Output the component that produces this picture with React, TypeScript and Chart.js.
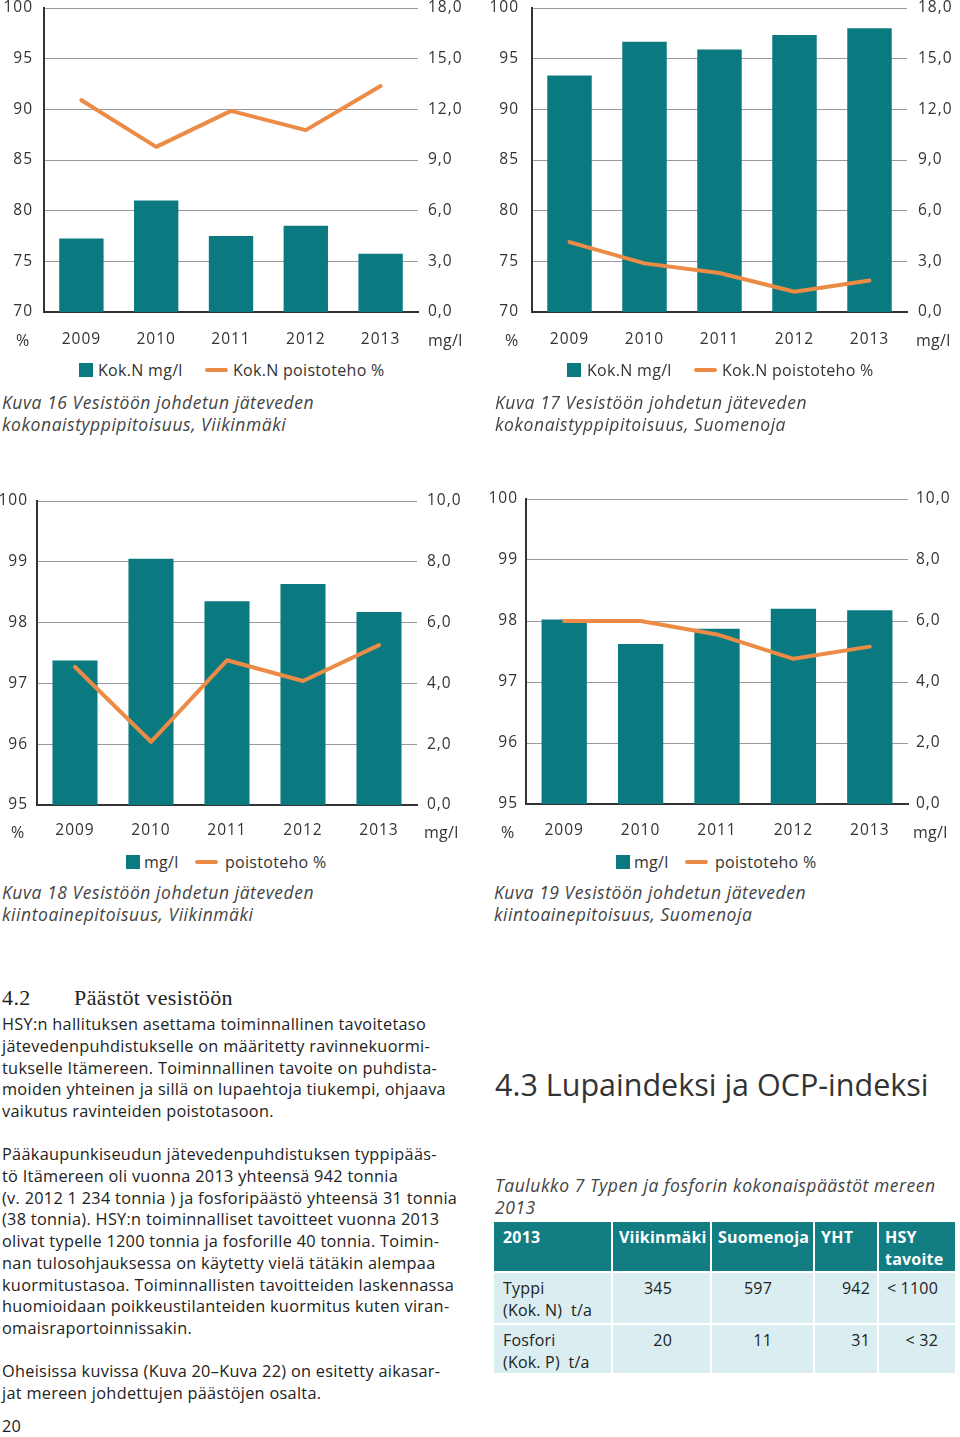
import React, { useEffect, useRef } from "react";
import { Chart, registerables } from "chart.js";

Chart.register(...registerables);

// ---------- data ----------
const years = ["2009", "2010", "2011", "2012", "2013"];

// Kuva 16 – Viikinmäki, kokonaistyppi
const viikN_mgl = [4.35, 6.6, 4.5, 5.1, 3.45];
const viikN_pct = [90.9, 86.3, 89.85, 87.95, 92.3];
// Kuva 17 – Suomenoja, kokonaistyppi
const suomN_mgl = [14.0, 16.0, 15.55, 16.4, 16.8];
const suomN_pct = [76.9, 74.8, 73.85, 72.0, 73.1];
// Kuva 18 – Viikinmäki, kiintoaine
const viikSS_mgl = [4.75, 8.1, 6.7, 7.27, 6.35];
const viikSS_pct = [97.27, 96.04, 97.38, 97.04, 97.63];
// Kuva 19 – Suomenoja, kiintoaine
const suomSS_mgl = [6.05, 5.25, 5.75, 6.4, 6.35];
const suomSS_pct = [98.0, 98.0, 97.78, 97.38, 97.58];

// table
const tableHeader = ["2013", "Viikinmäki", "Suomenoja", "YHT", "HSY\ntavoite"];
const typpiRow = ["Typpi\n(Kok. N)  t/a", "345", "597", "942", "< 1100"];
const fosforiRow = ["Fosfori\n(Kok. P)  t/a", "20", "11", "31", "< 32"];

const TEAL = "#0b7a80";
const ORANGE = "#ec8b45";
const TEXT = "#333333";
const FONT = "'Open Sans', sans-serif";

const spacingPlugin = {
  id: "spacing",
  beforeUpdate(chart: any) {
    chart.ctx.letterSpacing = "1px";
  },
  beforeDraw(chart: any) {
    chart.ctx.letterSpacing = "1px";
  },
};

type ChartProps = {
  left: number;
  top: number;
  width: number;
  height: number;
  leftW: number;
  rightW: number;
  padTop: number;
  xPad: number;
  lPad: number;
  rPad: number;
  pctMin: number;
  pctMax: number;
  pctStep: number;
  mglMax: number;
  mglStep: number;
  bars: number[];
  line: number[];
  barLabel: string;
  lineLabel: string;
};

function ComboChart(p: ChartProps) {
  const ref = useRef<HTMLCanvasElement>(null);
  useEffect(() => {
    if (!ref.current) return;
    const tickFont = { family: FONT, size: 15.5, lineHeight: 1 };
    const chart = new Chart(ref.current, {
      type: "bar",
      plugins: [spacingPlugin],
      data: {
        labels: years,
        datasets: [
          {
            type: "line",
            label: p.lineLabel,
            data: p.line,
            yAxisID: "yL",
            borderColor: ORANGE,
            borderWidth: 4,
            pointRadius: 0,
            tension: 0,
            borderCapStyle: "round",
            borderJoinStyle: "round",
            order: 0,
          } as any,
          {
            type: "bar",
            label: p.barLabel,
            data: p.bars,
            yAxisID: "yR",
            backgroundColor: TEAL,
            barPercentage: 0.593,
            categoryPercentage: 1,
            order: 1,
          },
        ],
      },
      options: {
        animation: false,
        responsive: false,
        maintainAspectRatio: false,
        layout: { padding: { top: p.padTop, left: 0, right: 0, bottom: 0 } },
        plugins: { legend: { display: false }, tooltip: { enabled: false } },
        scales: {
          x: {
            type: "category",
            offset: true,
            grid: { display: false, drawTicks: false },
            border: { display: true, color: "#333333", width: 2 },
            ticks: { padding: p.xPad, color: TEXT, font: tickFont },
            afterFit: (s: any) => {
              s.height = 40;
              s.paddingLeft = 0;
              s.paddingRight = 0;
            },
          },
          yL: {
            type: "linear",
            position: "left",
            min: p.pctMin,
            max: p.pctMax,
            ticks: {
              stepSize: p.pctStep,
              padding: p.lPad,
              color: TEXT,
              font: tickFont,
              callback: (v: any) => String(v),
            },
            grid: { color: "#9a9a9a", lineWidth: 1, drawTicks: false },
            border: { display: true, color: "#333333", width: 2 },
            afterFit: (s: any) => {
              s.width = p.leftW;
              s.paddingTop = 0;
              s.paddingBottom = 0;
            },
          },
          yR: {
            type: "linear",
            position: "right",
            min: 0,
            max: p.mglMax,
            ticks: {
              stepSize: p.mglStep,
              padding: p.rPad,
              color: TEXT,
              font: tickFont,
              callback: (v: any) => Number(v).toFixed(1).replace(".", ","),
            },
            grid: { display: false, drawTicks: false },
            border: { display: false },
            afterFit: (s: any) => {
              s.width = p.rightW;
              s.paddingTop = 0;
              s.paddingBottom = 0;
            },
          },
        },
      } as any,
    });
    return () => chart.destroy();
  }, []);
  return (
    <canvas
      ref={ref}
      width={p.width}
      height={p.height}
      style={{ position: "absolute", left: p.left, top: p.top, width: p.width, height: p.height }}
    />
  );
}

const abs = (left: number, top: number, extra: React.CSSProperties = {}): React.CSSProperties => ({
  position: "absolute",
  left,
  top,
  whiteSpace: "nowrap",
  ...extra,
});

const small: React.CSSProperties = { fontSize: 16, lineHeight: "22px", color: TEXT, letterSpacing: "0.3px" };

function Legend({ y, sq, t1, lx, t2, a, b }: { y: number; sq: number; t1: number; lx: number; t2: number; a: string; b: string }) {
  return (
    <>
      <div style={abs(sq, y - 7, { width: 14, height: 14, background: TEAL })} />
      <div style={abs(t1, y - 11, small)}>{a}</div>
      <div style={abs(lx, y - 2, { width: 23, height: 4, borderRadius: 2, background: ORANGE })} />
      <div style={abs(t2, y - 11, small)}>{b}</div>
    </>
  );
}

function AxisUnits({ y, pctX, mglX }: { y: number; pctX: number; mglX: number }) {
  return (
    <>
      <div style={abs(pctX, y - 11, small)}>%</div>
      <div style={abs(mglX, y - 11, small)}>mg/l</div>
    </>
  );
}

const italic: React.CSSProperties = {
  fontSize: 17.5,
  lineHeight: "22px",
  fontStyle: "italic",
  color: "#444",
  letterSpacing: "0.55px",
};

function Caption({ x, y, l1, l2 }: { x: number; y: number; l1: string; l2: string }) {
  return (
    <>
      <div style={abs(x, y - 11, italic)}>{l1}</div>
      <div style={abs(x, y + 11, italic)}>{l2}</div>
    </>
  );
}

const para1 = [
  "HSY:n hallituksen asettama toiminnallinen tavoitetaso",
  "jätevedenpuhdistukselle on määritetty ravinnekuormi-",
  "tukselle Itämereen. Toiminnallinen tavoite on puhdista-",
  "moiden yhteinen ja sillä on lupaehtoja tiukempi, ohjaava",
  "vaikutus ravinteiden poistotasoon.",
];
const para2 = [
  "Pääkaupunkiseudun jätevedenpuhdistuksen typpipääs-",
  "tö Itämereen oli vuonna 2013 yhteensä 942 tonnia",
  "(v. 2012 1 234 tonnia ) ja fosforipäästö yhteensä 31 tonnia",
  "(38 tonnia). HSY:n toiminnalliset tavoitteet vuonna 2013",
  "olivat typelle 1200 tonnia ja fosforille 40 tonnia. Toimin-",
  "nan tulosohjauksessa on käytetty vielä tätäkin alempaa",
  "kuormitustasoa. Toiminnallisten tavoitteiden laskennassa",
  "huomioidaan poikkeustilanteiden kuormitus kuten viran-",
  "omaisraportoinnissakin.",
];
const para3 = [
  "Oheisissa kuvissa (Kuva 20–Kuva 22) on esitetty aikasar-",
  "jat mereen johdettujen päästöjen osalta.",
];

const body: React.CSSProperties = { fontSize: 16.3, lineHeight: "22px", color: "#222", letterSpacing: "0.3px" };

function TextBlock({ lines, y }: { lines: string[]; y: number }) {
  return (
    <>
      {lines.map((l, i) => (
        <div key={i} style={abs(2, y + i * 21.75 - 11, body)}>
          {l}
        </div>
      ))}
    </>
  );
}

const colX = [494, 613, 712, 815, 879, 957];
const rowY = [1222, 1273, 1325, 1375];

function Table() {
  const rows = [tableHeader, typpiRow, fosforiRow];
  const numPadRight = [0, 38, 41, 7, 17];
  const cells: React.ReactNode[] = [];
  rows.forEach((row, r) => {
    row.forEach((txt, c) => {
      const left = colX[c];
      const w = colX[c + 1] - colX[c] - 2;
      const top = rowY[r];
      const h = rowY[r + 1] - rowY[r] - 2;
      const header = r === 0;
      const isNum = !header && c > 0;
      cells.push(
        <div
          key={r + "-" + c}
          style={{
            position: "absolute",
            left,
            top,
            width: w,
            height: h,
            background: header ? "#127d83" : "#daeef2",
            color: header ? "#fff" : "#222",
            fontWeight: header ? 700 : 400,
            fontSize: 16,
            lineHeight: "22px",
            letterSpacing: "0.2px",
            boxSizing: "border-box",
            paddingTop: 4,
            paddingLeft: isNum ? 0 : header && c > 0 ? 6 : 9,
            paddingRight: isNum ? numPadRight[c] : 0,
            textAlign: isNum ? "right" : "left",
            whiteSpace: "pre",
          }}
        >
          {txt}
        </div>
      );
    });
  });
  return <>{cells}</>;
}

export default function App() {
  useEffect(() => {
    document.body.style.margin = "0";
  }, []);
  const serif: React.CSSProperties = {
    fontFamily: "'Liberation Serif', 'DejaVu Serif', serif",
    fontSize: 22,
    lineHeight: "26px",
    color: "#222",
    letterSpacing: "0.4px",
  };
  return (
    <div style={{ position: "relative", width: 960, height: 1437, background: "#fff", fontFamily: FONT, overflow: "hidden" }}>
      <ComboChart
        left={0} top={0} width={480} height={352}
        leftW={44} rightW={62} padTop={8} xPad={20} lPad={11} rPad={10}
        pctMin={70} pctMax={100} pctStep={5} mglMax={18} mglStep={3}
        bars={viikN_mgl} line={viikN_pct} barLabel="Kok.N mg/l" lineLabel="Kok.N poistoteho %"
      />
      <AxisUnits y={340} pctX={16} mglX={428} />
      <Legend y={370} sq={79} t1={98} lx={205} t2={233} a="Kok.N mg/l" b="Kok.N poistoteho %" />
      <Caption x={2} y={402} l1="Kuva 16 Vesistöön johdetun jäteveden" l2="kokonaistyppipitoisuus, Viikinmäki" />

      <ComboChart
        left={480} top={0} width={480} height={352}
        leftW={52} rightW={53} padTop={8} xPad={20} lPad={13} rPad={11}
        pctMin={70} pctMax={100} pctStep={5} mglMax={18} mglStep={3}
        bars={suomN_mgl} line={suomN_pct} barLabel="Kok.N mg/l" lineLabel="Kok.N poistoteho %"
      />
      <AxisUnits y={340} pctX={505} mglX={916} />
      <Legend y={370} sq={567} t1={587} lx={694} t2={722} a="Kok.N mg/l" b="Kok.N poistoteho %" />
      <Caption x={495} y={402} l1="Kuva 17 Vesistöön johdetun jäteveden" l2="kokonaistyppipitoisuus, Suomenoja" />

      <ComboChart
        left={0} top={492} width={480} height={353}
        leftW={37} rightW={63} padTop={9} xPad={18} lPad={9} rPad={10}
        pctMin={95} pctMax={100} pctStep={1} mglMax={10} mglStep={2}
        bars={viikSS_mgl} line={viikSS_pct} barLabel="mg/l" lineLabel="poistoteho %"
      />
      <AxisUnits y={832} pctX={11} mglX={424} />
      <Legend y={862} sq={126} t1={144} lx={195} t2={225} a="mg/l" b="poistoteho %" />
      <Caption x={2} y={892} l1="Kuva 18 Vesistöön johdetun jäteveden" l2="kiintoainepitoisuus, Viikinmäki" />

      <ComboChart
        left={480} top={490} width={480} height={354}
        leftW={46} rightW={52} padTop={9} xPad={19} lPad={8} rPad={8}
        pctMin={95} pctMax={100} pctStep={1} mglMax={10} mglStep={2}
        bars={suomSS_mgl} line={suomSS_pct} barLabel="mg/l" lineLabel="poistoteho %"
      />
      <AxisUnits y={832} pctX={501} mglX={913} />
      <Legend y={862} sq={616} t1={634} lx={685} t2={715} a="mg/l" b="poistoteho %" />
      <Caption x={494} y={892} l1="Kuva 19 Vesistöön johdetun jäteveden" l2="kiintoainepitoisuus, Suomenoja" />

      {/* text section */}
      <div style={abs(2, 985, serif)}>4.2</div>
      <div style={abs(74, 985, serif)}>Päästöt vesistöön</div>
      <TextBlock lines={para1} y={1024} />
      <TextBlock lines={para2} y={1154} />
      <TextBlock lines={para3} y={1371} />
      <div style={abs(2, 1415, body)}>20</div>

      <div style={abs(495, 1064, { fontSize: 30.5, lineHeight: "40px", color: "#333" })}>4.3 Lupaindeksi ja OCP-indeksi</div>
      <div style={abs(495, 1174, italic)}>Taulukko 7 Typen ja fosforin kokonaispäästöt mereen</div>
      <div style={abs(495, 1196, italic)}>2013</div>
      <Table />
    </div>
  );
}
